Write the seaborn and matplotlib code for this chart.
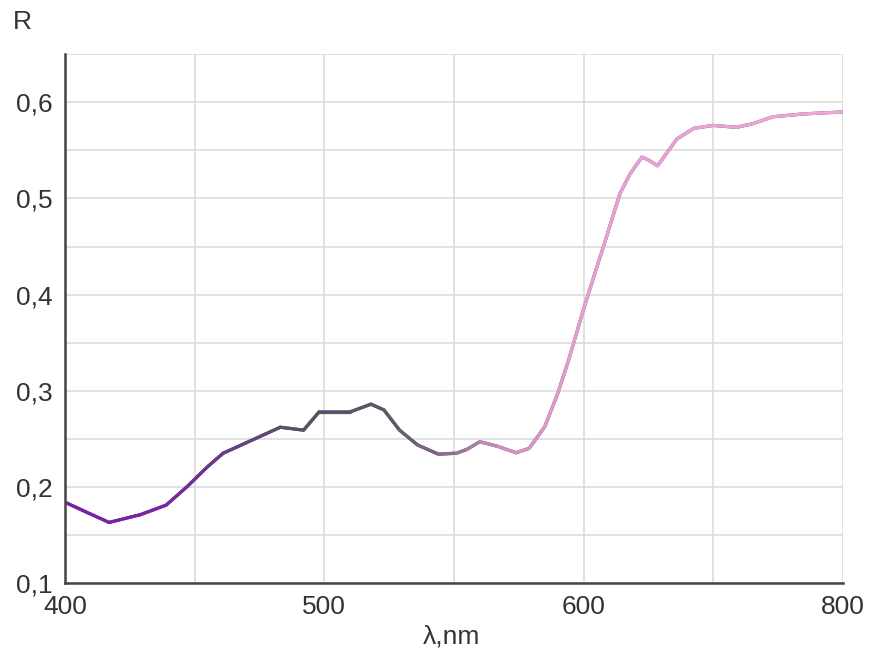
import numpy as np
import matplotlib
matplotlib.use("Agg")
import matplotlib.pyplot as plt
import seaborn as sns
from matplotlib.collections import LineCollection
from matplotlib.colors import LinearSegmentedColormap

# reflectance spectrum
wavelength = [400, 408, 417, 429, 439, 447, 455, 461, 470, 483, 492, 498, 510,
              518, 523, 529, 536, 544, 551, 555, 560, 567, 574, 579, 585, 590,
              594, 600, 607, 616, 628, 636, 645, 650, 657, 664, 672, 685, 700,
              718, 731, 746, 770, 800]
reflectance = [0.184, 0.174, 0.163, 0.171, 0.181, 0.200, 0.221, 0.235, 0.246,
               0.262, 0.259, 0.278, 0.278, 0.286, 0.280, 0.259, 0.2435, 0.234,
               0.235, 0.239, 0.247, 0.242, 0.2355, 0.240, 0.2625, 0.297, 0.330,
               0.385, 0.415, 0.453, 0.505, 0.526, 0.543, 0.540, 0.534, 0.547,
               0.562, 0.573, 0.576, 0.574, 0.578, 0.585, 0.588, 0.590]

x_major = [400, 500, 600, 800]
x_minor = [450, 550, 700]
y_major = [0.1, 0.2, 0.3, 0.4, 0.5, 0.6]
y_minor = [0.15, 0.25, 0.35, 0.45, 0.55, 0.65]

# line colour along the spectrum
color_stops = [(400, "#7a1fa8"), (440, "#77289c"), (470, "#5e4a74"),
               (500, "#4d5a5c"), (525, "#56605e"), (545, "#806a80"),
               (565, "#c890b8"), (600, "#e4a2cc"), (800, "#eaaad2")]


def fwd(x):
    x = np.asarray(x, dtype=float)
    return np.where(x <= 600, x, 600 + (x - 600) / 2)


def inv(x):
    x = np.asarray(x, dtype=float)
    return np.where(x <= 600, x, 600 + (x - 600) * 2)


sns.set_style("white")
plt.rcParams["font.family"] = ["Liberation Sans", "DejaVu Sans"]

fig = plt.figure(figsize=(8.69, 6.54), dpi=100)
ax = fig.add_axes([0.0748, 0.1086, 0.8952, 0.8084])

sns.lineplot(x=wavelength, y=reflectance, ax=ax, color=color_stops[0][1],
             linewidth=2.3, zorder=2)

lo, hi = color_stops[0][0], color_stops[-1][0]
cmap = LinearSegmentedColormap.from_list(
    "spec", [((w - lo) / (hi - lo), c) for w, c in color_stops])
pts = np.column_stack([wavelength, reflectance])
segs = np.stack([pts[:-1], pts[1:]], axis=1)
mids = (np.array(wavelength[:-1]) + np.array(wavelength[1:])) / 2
lc = LineCollection(segs, colors=cmap((mids - lo) / (hi - lo)), linewidths=2.3,
                    capstyle="round", joinstyle="round", zorder=3)
ax.add_collection(lc)

ax.set_xscale("function", functions=(fwd, inv))
ax.set_xlim(400, 800)
ax.set_ylim(0.1, 0.65)
ax.set_xticks(x_major)
ax.set_xticks(x_minor, minor=True)
ax.set_yticks(y_major)
ax.set_yticks(y_minor, minor=True)
ax.set_yticklabels([f"{v:.1f}".replace(".", ",") for v in y_major])
ax.set_xticklabels([str(v) for v in x_major])
ax.grid(True, which="both", color="#d9d9d9", linewidth=1.1, zorder=0)
ax.tick_params(axis="both", which="both", length=0, labelsize=19,
               labelcolor="#333333", pad=9)

for s in ["top", "right"]:
    ax.spines[s].set_visible(False)
for s in ["left", "bottom"]:
    ax.spines[s].set_color("#444444")
    ax.spines[s].set_linewidth(1.8)
    ax.spines[s].set_zorder(4)

ax.set_xlabel("")
ax.set_ylabel("")
fig.text(0.026, 0.966, "R", fontsize=19, color="#333333", ha="center", va="center")
fig.text(0.520, 0.026, "λ,nm", fontsize=19, color="#333333", ha="center", va="center")

fig.savefig("out.png", dpi=100)
